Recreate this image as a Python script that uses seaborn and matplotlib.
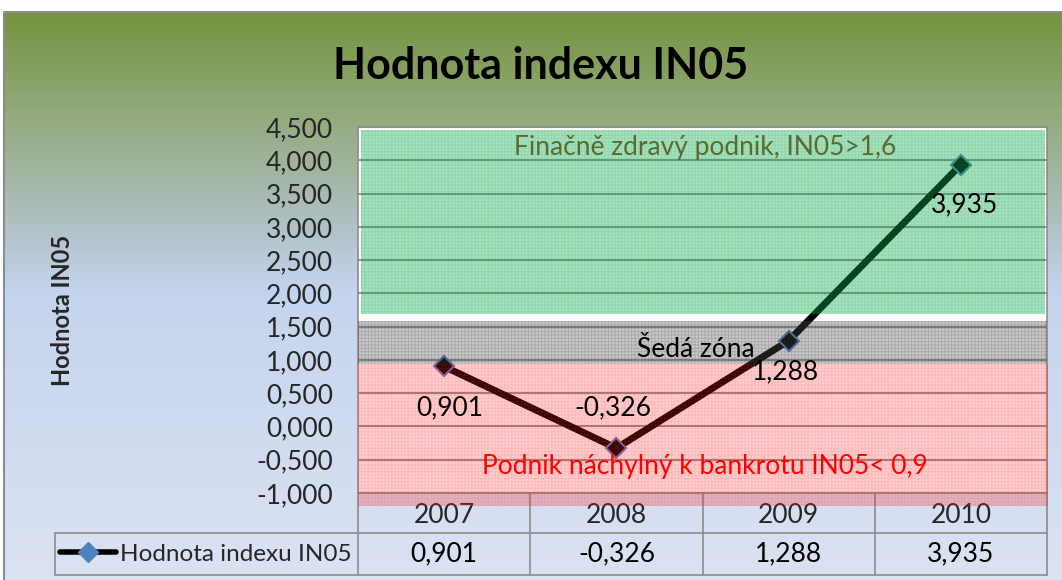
import numpy as np
import pandas as pd
import matplotlib
matplotlib.use("Agg")
import matplotlib.pyplot as plt
import seaborn as sns
from matplotlib.lines import Line2D
from matplotlib.ticker import FuncFormatter, MultipleLocator

# data
years = ["2007", "2008", "2009", "2010"]
in05 = [0.901, -0.326, 1.288, 3.935]
series_name = "Hodnota indexu IN05"
zone_edges = [-1.0, 0.9, 1.6, 4.5]
zone_texts = ["Podnik náchylný k bankrotu IN05< 0,9", "Šedá zóna",
              "Finačně zdravý podnik, IN05>1,6"]

sns.set_theme(style="white")
plt.rcParams["font.family"] = ["Lato", "DejaVu Sans"]
plt.rcParams["hatch.linewidth"] = 0.7


def cz(v):
    return f"{v:.3f}".replace(".", ",")


fig = plt.figure(figsize=(10.62, 5.8), dpi=100)

# gradient background of the chart area
bg = fig.add_axes([0, 0, 1, 1], zorder=-10)
bg.set_xlim(0, 1062)
bg.set_ylim(580, 0)
bg.axis("off")
stop_y = [12, 110, 230, 290, 580]
stop_c = [(0.46, 0.58, 0.25), (0.57, 0.66, 0.47), (0.70, 0.76, 0.78),
          (0.77, 0.83, 0.93), (0.86, 0.89, 0.95)]
ys = np.arange(12, 581)
grad = np.stack([np.interp(ys, stop_y, [c[i] for c in stop_c]) for i in range(3)], axis=-1)[:, None, :]
bg.imshow(grad, extent=(4, 1062, 580, 12), aspect="auto", interpolation="bilinear")
bg.plot([4, 4, 1062], [580, 12, 12], color="#8c8c8c", lw=1.5)

fig.text(541 / 1062, 1 - 66 / 580, "Hodnota indexu IN05", ha="center", va="center",
         fontsize=31, fontweight="bold", color="black")

ax = fig.add_axes([358 / 1062, 87 / 580, 689 / 1062, 366 / 580])
ax.set_facecolor("white")

df = pd.DataFrame({"rok": years, "IN05": in05})
sns.pointplot(data=df, x="rok", y="IN05", color="black", markers="D", linestyles="-",
              markersize=10, markeredgecolor="#4f81bd", markeredgewidth=1.5,
              linewidth=5, errorbar=None, ax=ax)

ax.set_xlim(-0.5, len(years) - 0.5)
ax.set_ylim(zone_edges[0], zone_edges[-1])
ax.yaxis.set_major_locator(MultipleLocator(0.5))
ax.yaxis.set_major_formatter(FuncFormatter(lambda v, p: cz(v)))
ax.yaxis.grid(True, color="#8a8a8a", lw=1.3)
ax.set_axisbelow(True)
for s in ax.spines.values():
    s.set_color("#8c8c8c")
    s.set_linewidth(1.2)
ax.tick_params(axis="y", length=0, pad=18, labelsize=19)
ax.tick_params(axis="x", length=0, pad=7, labelsize=19)
ax.set_xlabel("")
ax.set_ylabel("Hodnota IN05", fontsize=17, fontweight="bold", labelpad=0)
ax.yaxis.set_label_coords(-0.412, 0.5)

# zones
red = ax.axhspan(zone_edges[0] - 0.2, zone_edges[1] + 0.04, xmin=0, xmax=1.002,
                 facecolor=(1, 0.05, 0.05, 0.2), edgecolor=(1, 0.25, 0.25, 0.15),
                 hatch="+++++", lw=0, zorder=3)
red.set_clip_on(False)
ax.axhspan(zone_edges[1] + 0.04, zone_edges[2] - 0.01, facecolor=(0.3, 0.3, 0.3, 0.3),
           edgecolor=(0.25, 0.25, 0.25, 0.22), hatch="+++++", lw=0, zorder=3)
ax.axhspan(zone_edges[2] + 0.09, zone_edges[3] - 0.045, xmin=0.004, xmax=0.997,
           facecolor=(0.05, 0.68, 0.32, 0.36), edgecolor=(0.1, 0.6, 0.3, 0.15),
           hatch="+++++", lw=0, zorder=3)

ax.text(0.504, 4.19, zone_texts[2], transform=ax.get_yaxis_transform(), ha="center",
        va="center", fontsize=19, color="#5b6b30", zorder=5)
ax.text(0.49, 1.15, zone_texts[1], transform=ax.get_yaxis_transform(), ha="center",
        va="center", fontsize=19, color="black", zorder=5)
ax.text(0.504, -0.6, zone_texts[0], transform=ax.get_yaxis_transform(), ha="center",
        va="center", fontsize=19, color="#ff0000", zorder=5)

# data labels
label_dx = [0.03, -0.02, -0.02, 0.02]
label_dy = [-0.62, 0.6, -0.47, -0.6]
for i, v in enumerate(in05):
    ax.text(i + label_dx[i], v + label_dy[i], cz(v), ha="center", va="center",
            fontsize=19, color="black", zorder=5)

# data table under the axis
tcol = "#8c8c8c"
tx = ax.get_xaxis_transform()
row1, row2, left = -0.109, -0.224, -0.44
for xb in [0.5, 1.5, 2.5, 3.5]:
    ax.plot([xb, xb], [0, row2], transform=tx, color=tcol, lw=1.2, clip_on=False, zorder=1)
ax.plot([left, 1], [row1, row1], transform=ax.transAxes, color=tcol, lw=1.2, clip_on=False)
ax.plot([left, 1], [row2, row2], transform=ax.transAxes, color=tcol, lw=1.2, clip_on=False)
ax.plot([left, left], [row1, row2], transform=ax.transAxes, color=tcol, lw=1.2, clip_on=False)
ax.plot([0, 0], [0, row2], transform=ax.transAxes, color=tcol, lw=1.2, clip_on=False)
for i, v in enumerate(in05):
    ax.text(i, (row1 + row2) / 2, cz(v), transform=tx, ha="center", va="center",
            fontsize=19, color="black", clip_on=False)

key = Line2D([], [], color="black", lw=4, marker="D", markersize=10,
             markerfacecolor="#4f81bd", markeredgecolor="#4f81bd")
fig.legend([key], [series_name], loc="center left",
           bbox_to_anchor=(60 / 1062, 1 - 554 / 580), frameon=False, fontsize=17.5,
           handlelength=2.3, handletextpad=0.15, borderpad=0, borderaxespad=0)

fig.savefig("out.png", dpi=100)
